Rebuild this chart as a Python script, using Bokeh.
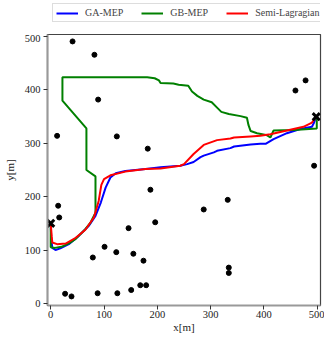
from bokeh.plotting import figure
from bokeh.models import Range1d, Legend, LegendItem
from bokeh.layouts import column
from bokeh.embed import file_html
from bokeh.resources import INLINE

# obstacles
obs_x = [41, 82, 89, 12, 124, 182, 187, 459, 478, 494, 14, 16, 196, 146, 101, 123, 155, 79, 174,
         168, 179, 151, 27, 39, 88, 125, 287, 332, 334, 334]
obs_y = [491, 466, 382, 314, 313, 290, 213, 399, 418, 258, 183, 161, 152, 141, 106, 96, 93, 86, 80,
         34, 34, 25, 18, 13, 19, 19, 176, 194, 67, 57]

start_x = [0]
start_y = [150]
goal_x = [498]
goal_y = [350]

ga_x = [0, 1, 3, 9, 18, 34, 53, 72, 84, 94, 103, 112, 122, 140, 178, 206, 243, 256, 268, 281, 287,
        306, 312, 337, 344, 375, 393, 403, 418, 443, 468, 490, 494, 498]
ga_y = [150, 120, 104, 100, 103, 111, 127, 146, 164, 189, 217, 236, 244, 248, 252, 255, 258, 261, 265,
        274, 277, 283, 286, 291, 294, 298, 299, 299, 308, 319, 327, 331, 339, 350]

gb_x = [0, 0, 8, 20, 35, 47, 65, 75, 84, 84, 67, 67, 22, 22, 181, 195, 203, 206, 230, 240, 258, 265,
        275, 287, 302, 312, 320, 334, 356, 368, 371, 375, 387, 406, 412, 418, 456, 499, 499]
gb_y = [150, 105, 104, 106, 113, 121, 139, 152, 170, 238, 250, 328, 380, 424, 424, 422, 418, 413, 412,
        410, 408, 397, 389, 382, 377, 367, 359, 355, 351, 348, 334, 323, 319, 315, 311, 324, 325, 328, 350]

sl_x = [0, 2, 3, 12, 28, 47, 65, 81, 90, 95, 100, 112, 140, 178, 206, 243, 250, 268, 287, 312, 337,
        344, 375, 393, 412, 443, 474, 490, 498]
sl_y = [150, 125, 114, 111, 112, 123, 138, 161, 192, 222, 233, 240, 247, 252, 253, 258, 261, 280, 297,
        306, 309, 311, 313, 314, 317, 324, 331, 339, 350]

series_names = ["GA-MEP", "GB-MEP", "Semi-Lagragian"]
series_colors = ["#0000ff", "#008000", "#ff0000"]
series_xs = [ga_x, gb_x, sl_x]
series_ys = [ga_y, gb_y, sl_y]

x_ticks = [0, 100, 200, 300, 400, 500]
y_ticks = [0, 100, 200, 300, 400, 500]

FONT = "Liberation Serif"

# ---- legend strip above the plot (its lines lie outside its view, only the legend shows) ----
leg_fig = figure(width=324, height=34, output_backend="svg", toolbar_location=None,
                 x_range=Range1d(2000, 2001), y_range=Range1d(2000, 2001),
                 x_axis_location=None, y_axis_location=None,
                 min_border_left=0, min_border_right=0, min_border_top=0, min_border_bottom=0)
leg_fig.grid.visible = False
leg_fig.outline_line_color = None
leg_items = []
for name, col, xs, ys in zip(series_names, series_colors, series_xs, series_ys):
    r = leg_fig.line(xs, ys, line_color=col, line_width=2)
    leg_items.append(LegendItem(label=name, renderers=[r]))

legend = Legend(items=leg_items, orientation="horizontal", location=(5, 12),
                label_text_font=FONT, label_text_font_size="10px",
                label_height=10, glyph_height=10, glyph_width=22,
                label_standoff=7, spacing=18, padding=3, margin=0,
                border_line_color="#bbbbbb", border_line_width=1,
                background_fill_alpha=1.0)
leg_fig.add_layout(legend, "center")

# ---- main plot ----
p = figure(width=324, height=304, output_backend="svg", toolbar_location=None,
           x_range=Range1d(-6, 506), y_range=Range1d(-4, 504),
           min_border_left=47, min_border_right=4, min_border_top=0, min_border_bottom=33)
p.grid.visible = False
p.outline_line_color = "#444444"
p.outline_line_width = 1.2

for xs, ys, col in zip(series_xs, series_ys, series_colors):
    p.line(xs, ys, line_color=col, line_width=2)

p.scatter(obs_x, obs_y, marker="circle", size=5, color="black")
p.scatter(start_x, start_y, marker="x", size=10, line_width=3, color="black")
p.scatter(goal_x, goal_y, marker="x", size=10, line_width=3, color="black")

for ax in (p.xaxis[0], p.yaxis[0]):
    ax.axis_line_color = "#999999"
    ax.axis_line_width = 2
    ax.major_tick_line_color = "#333333"
    ax.major_tick_out = 4
    ax.major_tick_in = 0
    ax.minor_tick_line_color = None
    ax.major_label_text_font = FONT
    ax.major_label_text_font_size = "10.5px"
    ax.major_label_text_color = "#222222"
    ax.axis_label_text_font = FONT
    ax.axis_label_text_font_size = "11px"
    ax.axis_label_text_font_style = "normal"
    ax.axis_label_text_color = "#222222"

p.xaxis.ticker = x_ticks
p.yaxis.ticker = y_ticks
p.xaxis.axis_label = "x[m]"
p.yaxis.axis_label = "y[m]"
p.xaxis.axis_label_standoff = 0
p.yaxis.axis_label_standoff = 6
p.xaxis.major_label_standoff = 1
p.yaxis.major_label_standoff = 3

layout = column(leg_fig, p, spacing=0)

open("out.html", "w").write(file_html(layout, INLINE))
